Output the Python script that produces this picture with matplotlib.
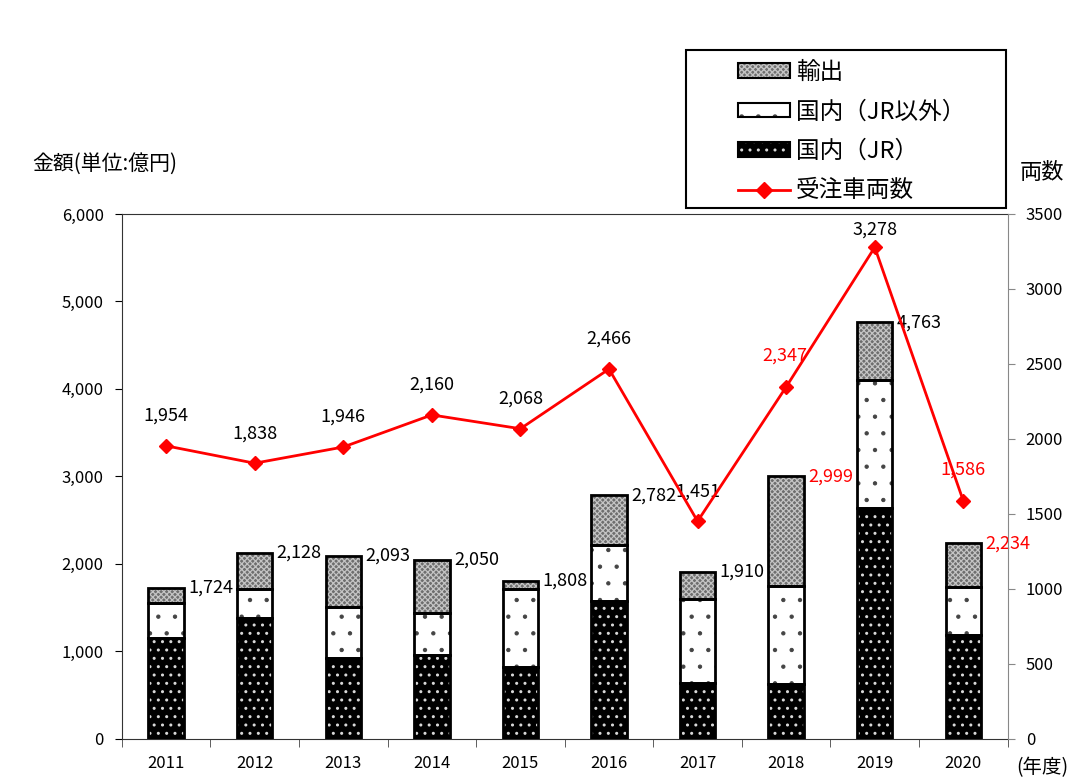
import numpy as np
import matplotlib.pyplot as plt
from matplotlib.lines import Line2D
from matplotlib.patches import Patch, Rectangle
from matplotlib.legend_handler import HandlerTuple

plt.rcParams['font.family'] = ['Noto Sans CJK JP', 'DejaVu Sans']
plt.rcParams['hatch.linewidth'] = 1.0

years = ['2011', '2012', '2013', '2014', '2015', '2016', '2017', '2018', '2019', '2020']
# amounts (100 million yen)
jr = [1154, 1383, 926, 960, 823, 1577, 640, 629, 2640, 1189]
non_jr = [400, 331, 583, 480, 891, 640, 960, 1120, 1463, 548]
total = [1724, 2128, 2093, 2050, 1808, 2782, 1910, 2999, 4763, 2234]
export = [t - a - b for t, a, b in zip(total, jr, non_jr)]
# number of cars ordered
cars = [1954, 1838, 1946, 2160, 2068, 2466, 1451, 2347, 3278, 1586]

total_red = ['2018', '2020']
cars_red = ['2018', '2020']

x = np.arange(len(years))
w = 0.4

fig = plt.figure(figsize=(10.87, 7.81), dpi=100)
ax = fig.add_axes([0.112, 0.054, 0.815, 0.672])
ax2 = ax.twinx()


def set_hlw(bars, lw):
    for b in bars:
        if hasattr(b, 'set_hatch_linewidth'):
            b.set_hatch_linewidth(lw)


bottom2 = np.array(jr) + np.array(non_jr)
# fills with hatch (hatch colour = edgecolor), then outlines
b1 = ax.bar(x, jr, w, color='black', edgecolor='#d8d8d8', hatch='..', linewidth=0, zorder=2)
b2 = ax.bar(x, non_jr, w, bottom=jr, color='white', edgecolor='#444444', hatch='.', linewidth=0, zorder=2)
b3 = ax.bar(x, export, w, bottom=bottom2, color='#6e6e6e', edgecolor='#c4c4c4', hatch='xxxxxx', linewidth=0, zorder=2)
set_hlw(b1, 1.0)
set_hlw(b2, 0.7)
set_hlw(b3, 0.9)
for vals, bot in [(jr, 0), (non_jr, jr), (export, bottom2)]:
    ax.bar(x, vals, w, bottom=bot, fill=False, edgecolor='black', linewidth=2, zorder=3)

for i, t in enumerate(total):
    c = 'red' if years[i] in total_red else 'black'
    ax.text(x[i] + w / 2 + 0.05, t, f'{t:,}', color=c, fontsize=13, ha='left', va='center')

ax.set_xlim(-0.5, len(years) - 0.5)
ax.set_ylim(0, 6000)
ax.set_yticks(range(0, 6001, 1000))
ax.set_yticklabels([f'{v:,}' for v in range(0, 6001, 1000)], fontsize=12)
ax.set_xticks(x)
ax.set_xticklabels(years, fontsize=12)
ax.set_xticks(np.arange(-0.5, len(years), 1), minor=True)
ax.tick_params(axis='x', which='major', length=0, pad=12)
ax.tick_params(axis='x', which='minor', length=6, direction='out', color='#444444')
ax.tick_params(axis='y', length=5, direction='out', pad=8)
for s in ['left', 'bottom', 'top']:
    ax.spines[s].set_color('#333333')
ax.spines['right'].set_visible(False)

ax2.plot(x, cars, color='red', linewidth=2, marker='D', markersize=7, zorder=4)
ax2.set_ylim(0, 3500)
ax2.set_yticks(range(0, 3501, 500))
ax2.tick_params(axis='y', labelsize=12, length=5, direction='out', color='#888888', pad=8)
ax2.spines['right'].set_color('#888888')
for s in ['left', 'bottom', 'top']:
    ax2.spines[s].set_visible(False)

offsets = {'2017': (0.0, 200), '2018': (-0.02, 210), '2019': (0.0, 120), '2020': (0.0, 210)}
for i, v in enumerate(cars):
    c = 'red' if years[i] in cars_red else 'black'
    dx, dy = offsets.get(years[i], (0.0, 200))
    ax2.text(x[i] + dx, v + dy, f'{v:,}', color=c, fontsize=13, ha='center', va='center')

fig.text(0.03, 0.79, '金額(単位:億円)', fontsize=15, ha='left', va='center')
fig.text(0.938, 0.779, '両数', fontsize=16, ha='left', va='center')
fig.text(0.935, 0.017, '(年度)', fontsize=14, ha='left', va='center')

# legend frame drawn separately so it can be wider than its content
fig.patches.append(Rectangle((686 / 1087, 1 - 208 / 781), 320 / 1087, 158 / 781,
                             transform=fig.transFigure, fill=False,
                             edgecolor='black', linewidth=1.5))


def leg_patch(face, hcol, hatch):
    return (Patch(facecolor=face, edgecolor=hcol, hatch=hatch, linewidth=0),
            Patch(fill=False, edgecolor='black', linewidth=1.5))


handles = [
    leg_patch('#6e6e6e', '#c4c4c4', 'xxxxxx'),
    leg_patch('white', '#444444', '.'),
    leg_patch('black', '#d8d8d8', '..'),
    Line2D([], [], color='red', linewidth=2, marker='D', markersize=8),
]
labels = ['輸出', '国内（JR以外）', '国内（JR）', '受注車両数']
leg = fig.legend(handles, labels, loc='upper left', bbox_to_anchor=(719 / 1087, 1 - 42 / 781),
                 fontsize=17, frameon=False,
                 handlelength=2.2, handleheight=0.55, handletextpad=0.25,
                 labelspacing=0.7, borderpad=0.3,
                 handler_map={tuple: HandlerTuple(ndivide=1, pad=0)})

fig.savefig('out.png', dpi=100)
